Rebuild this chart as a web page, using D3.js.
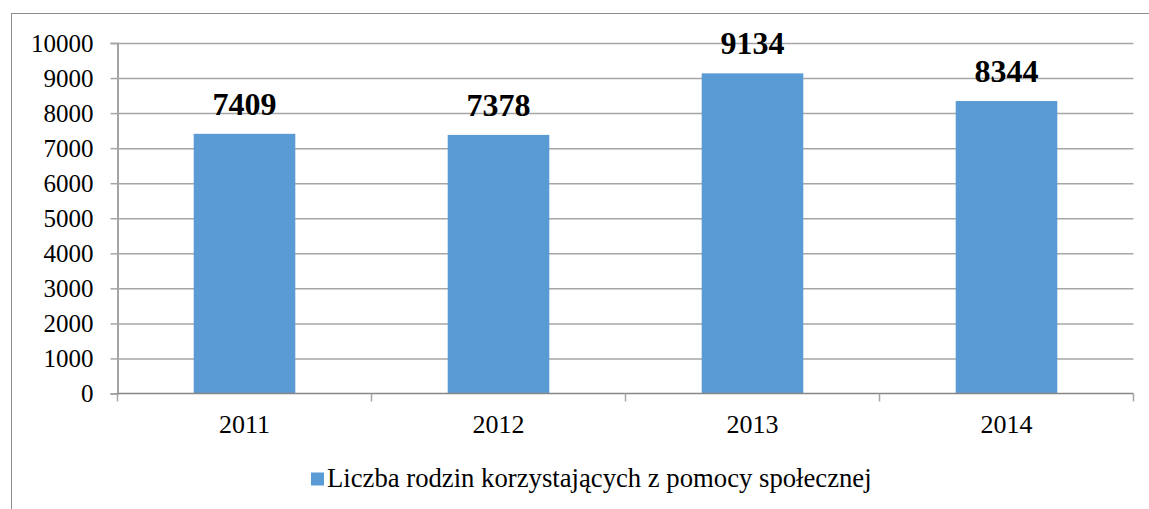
<!DOCTYPE html>
<html>
<head>
<meta charset="utf-8">
<script src="https://cdn.jsdelivr.net/npm/d3@7"></script>
<style>
  html, body { margin: 0; padding: 0; background: #fff; }
  svg { display: block; }
  svg text { font-family: "Liberation Serif", "Times New Roman", serif; fill: #000; }
</style>
</head>
<body>
<div id="chart"></div>
<script>
const years = ['2011', '2012', '2013', '2014'];
const families = [7409, 7378, 9134, 8344];
const yTicks = [0, 1000, 2000, 3000, 4000, 5000, 6000, 7000, 8000, 9000, 10000];
const seriesName = 'Liczba rodzin korzystających z pomocy społecznej';

const width = 1149, height = 509;
const margin = { top: 43, right: 15.5, bottom: 115.5, left: 117.5 };
const barColor = '#5b9bd5';
const serif = '"Liberation Serif", "Times New Roman", serif';

const svg = d3.select('#chart')
  .append('svg')
  .attr('width', width)
  .attr('height', height)
  .attr('font-family', serif);

// outer chart frame (cut off at right and bottom)
svg.append('rect')
  .attr('x', 11.5)
  .attr('y', 13.5)
  .attr('width', width + 20)
  .attr('height', height + 20)
  .attr('fill', 'none')
  .attr('stroke', '#8c8c8c')
  .attr('stroke-width', 1);

const x = d3.scaleBand()
  .domain(years)
  .range([margin.left, width - margin.right])
  .paddingInner(0.6)
  .paddingOuter(0.3);

const y = d3.scaleLinear()
  .domain([0, 10000])
  .range([height - margin.bottom, margin.top]);

// gridlines + y axis
const yAxis = svg.append('g')
  .attr('transform', `translate(${margin.left},0)`)
  .call(d3.axisLeft(y)
    .tickValues(yTicks)
    .tickSize(7)
    .tickPadding(17)
    .tickFormat(d3.format('d')))
  .attr('font-family', serif)
  .attr('font-size', 25);

yAxis.select('.domain').attr('stroke', '#868686').attr('stroke-width', 1.5);
yAxis.selectAll('.tick line').attr('stroke', '#a6a6a6').attr('stroke-width', 1.5);
yAxis.selectAll('.tick text')
  .attr('fill', '#000')
  .attr('font-family', serif)
  .style('font-size', '25px');

yAxis.selectAll('.tick')
  .filter(d => d > 0)
  .append('line')
  .attr('x1', 0)
  .attr('x2', width - margin.right - margin.left)
  .attr('stroke', '#a6a6a6')
  .attr('stroke-width', 1.5);

// bars
svg.append('g')
  .selectAll('rect')
  .data(families)
  .enter()
  .append('rect')
  .attr('x', (d, i) => x(years[i]))
  .attr('y', d => y(d))
  .attr('width', x.bandwidth())
  .attr('height', d => y(0) - y(d))
  .attr('fill', barColor);

// x axis
const step = x.step();
const xAxis = svg.append('g')
  .attr('transform', `translate(0,${y(0)})`);

xAxis.append('line')
  .attr('x1', margin.left)
  .attr('x2', width - margin.right)
  .attr('stroke', '#868686')
  .attr('stroke-width', 1.5);

xAxis.selectAll('line.sep')
  .data(d3.range(years.length + 1))
  .enter()
  .append('line')
  .attr('class', 'sep')
  .attr('x1', i => margin.left + i * step)
  .attr('x2', i => margin.left + i * step)
  .attr('y1', 0)
  .attr('y2', 8)
  .attr('stroke', '#a6a6a6')
  .attr('stroke-width', 1.5);

xAxis.selectAll('text')
  .data(years)
  .enter()
  .append('text')
  .attr('x', d => x(d) + x.bandwidth() / 2)
  .attr('y', 39)
  .attr('text-anchor', 'middle')
  .style('font-size', '26px')
  .text(d => d);

// value labels
svg.append('g')
  .selectAll('text')
  .data(families)
  .enter()
  .append('text')
  .attr('x', (d, i) => x(years[i]) + x.bandwidth() / 2)
  .attr('y', d => y(d) - 19)
  .attr('text-anchor', 'middle')
  .style('font-size', '32px')
  .style('font-weight', 'bold')
  .text(d => d);

// legend
const legend = svg.append('g');
legend.append('rect')
  .attr('x', 311)
  .attr('y', 472.5)
  .attr('width', 13)
  .attr('height', 13)
  .attr('fill', barColor);
legend.append('text')
  .attr('x', 327)
  .attr('y', 487)
  .style('font-size', '26.7px')
  .text(seriesName);
</script>
</body>
</html>
